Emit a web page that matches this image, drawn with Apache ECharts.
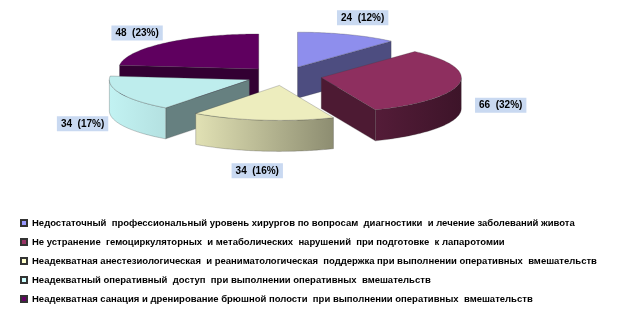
<!DOCTYPE html>
<html>
<head>
<meta charset="utf-8">
<script src="https://cdn.jsdelivr.net/npm/echarts@6/dist/echarts.min.js"></script>
<style>
  html, body { margin: 0; padding: 0; background: #fff; }
  #main { width: 624px; height: 315px; }
</style>
</head>
<body>
<div id="main"></div>
<script>
// data
var categories = [
  'Недостаточный  профессиональный уровень хирургов по вопросам  диагностики  и лечение заболеваний живота',
  'Не устранение  гемоциркуляторных  и метаболических  нарушений  при подготовке  к лапаротомии',
  'Неадекватная анестезиологическая  и реаниматологическая  поддержка при выполнении оперативных  вмешательств',
  'Неадекватный оперативный  доступ  при выполнении оперативных  вмешательств',
  'Неадекватная санация и дренирование брюшной полости  при выполнении оперативных  вмешательств'
];
var values = [24, 66, 34, 34, 48];
var percents = [12, 32, 16, 17, 23];
var colors = ['#9999FF', '#993366', '#FFFFCC', '#CCFFFF', '#660066'];

// layout of the 3d pie
var CX = 284, CY = 76, RX = 140, RY = 35, DEPTH = 31, EXPLODE = 0.27;
var total = values.reduce(function (a, b) { return a + b; }, 0);

function shade(hex, f) {
  var n = parseInt(hex.slice(1), 16);
  var r = Math.min(255, Math.round(((n >> 16) & 255) * f));
  var g = Math.min(255, Math.round(((n >> 8) & 255) * f));
  var b = Math.min(255, Math.round((n & 255) * f));
  return 'rgb(' + r + ',' + g + ',' + b + ')';
}

// brightness of the outer wall depending on angle (deg, clockwise from top)
function wallLight(deg) {
  var pts = [[90, 0.4], [157, 0.55], [216, 0.88], [270, 0.95]];
  if (deg <= pts[0][0]) return pts[0][1];
  for (var k = 1; k < pts.length; k++) {
    if (deg <= pts[k][0]) {
      var t = (deg - pts[k - 1][0]) / (pts[k][0] - pts[k - 1][0]);
      return pts[k - 1][1] + t * (pts[k][1] - pts[k - 1][1]);
    }
  }
  return pts[pts.length - 1][1];
}

function rim(ax, ay, t, dy) {
  return [ax + RX * Math.sin(t), ay - RY * Math.cos(t) + (dy || 0)];
}

// back-to-front order for the walls
var mids = values.map(function (v, i) {
  var before = values.slice(0, i).reduce(function (a, b) { return a + b; }, 0);
  return (before + v / 2) / total * Math.PI * 2;
});
var order = mids.map(function (m, i) { return i; })
  .sort(function (a, b) { return -Math.cos(mids[a]) - -Math.cos(mids[b]); });

function renderSlice(params, api) {
  var i = params.seriesIndex;
  var before = values.slice(0, i).reduce(function (a, b) { return a + b; }, 0);
  var s = before / total * Math.PI * 2;
  var e = (before + api.value(0)) / total * Math.PI * 2;
  var m = (s + e) / 2;
  var ax = CX + EXPLODE * RX * Math.sin(m);
  var ay = CY - EXPLODE * RY * Math.cos(m);
  var c = colors[i];
  var zw = order.indexOf(i);
  var step = Math.PI / 180;
  var children = [];
  var stroke = 'rgba(60,60,60,0.45)';

  // top face
  var top = [[ax, ay]];
  for (var t = s; t < e; t += step) top.push(rim(ax, ay, t));
  top.push(rim(ax, ay, e));
  children.push({ type: 'polygon', shape: { points: top }, z2: 10,
    style: { fill: shade(c, 0.93), stroke: stroke, lineWidth: 0.6 } });

  // outer wall (front half only)
  var a = Math.max(s, Math.PI / 2), b = Math.min(e, Math.PI * 1.5);
  if (b > a) {
    var wall = [];
    for (var t2 = a; t2 < b; t2 += step) wall.push(rim(ax, ay, t2));
    wall.push(rim(ax, ay, b));
    for (var t3 = b; t3 > a; t3 -= step) wall.push(rim(ax, ay, t3, DEPTH));
    wall.push(rim(ax, ay, a, DEPTH));
    var xl = rim(ax, ay, b)[0], xr = rim(ax, ay, a)[0];
    var fill = new echarts.graphic.LinearGradient(xl, 0, xr, 0, [
      { offset: 0, color: shade(c, wallLight(b * 180 / Math.PI)) },
      { offset: 1, color: shade(c, wallLight(a * 180 / Math.PI)) }
    ], true);
    children.push({ type: 'polygon', shape: { points: wall }, z2: zw,
      style: { fill: fill, stroke: stroke, lineWidth: 0.6 } });
  }

  // cut faces
  function cut(t) {
    var p = rim(ax, ay, t);
    return { type: 'polygon', z2: zw - 0.5,
      shape: { points: [[ax, ay], p, [p[0], p[1] + DEPTH], [ax, ay + DEPTH]] },
      style: { fill: shade(c, 0.5), stroke: stroke, lineWidth: 0.6 } };
  }
  if (Math.sin(s) < -0.001) children.push(cut(s));
  if (Math.sin(e) > 0.001) children.push(cut(e));

  // data label outside the slice
  var lx = ax + Math.sin(m) * 182;
  var ly = ay - Math.cos(m) * 70 + 16;
  children.push({ type: 'text', z2: 30,
    style: {
      x: lx, y: ly, text: api.value(0) + '  (' + percents[i] + '%)',
      align: 'center', verticalAlign: 'middle',
      font: 'bold 10px "Liberation Sans", Arial, sans-serif',
      fill: '#000', backgroundColor: '#c9d9f1', padding: [3, 4, 2, 4]
    } });

  return { type: 'group', children: children };
}

var chart = echarts.init(document.getElementById('main'), null, { renderer: 'canvas' });
var series = categories.map(function (name, i) {
  return {
    type: 'custom',
    name: name,
    coordinateSystem: 'none',
    silent: true,
    itemStyle: { color: colors[i], borderColor: '#333', borderWidth: 0.6 },
    renderItem: renderSlice,
    data: [values[i]]
  };
});

chart.setOption({
  animation: false,
  backgroundColor: '#fff',
  legend: {
    orient: 'vertical',
    left: 20,
    top: 217,
    padding: 0,
    itemWidth: 6,
    itemHeight: 6,
    itemGap: 7,
    icon: 'rect',
    selectedMode: false,
    textStyle: {
      fontFamily: '"Liberation Sans", Arial, sans-serif',
      fontSize: 9.5,
      fontWeight: 'bold',
      lineHeight: 12,
      color: '#000'
    },
    data: categories
  },
  series: series
});
</script>
</body>
</html>
